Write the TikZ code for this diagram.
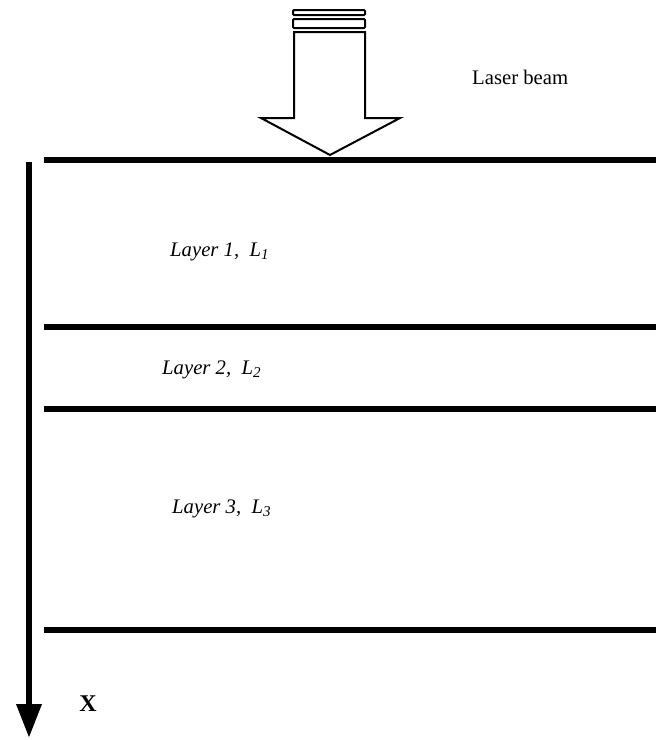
\documentclass[tikz,border=0pt]{standalone}
\usepackage{fontspec}
\setmainfont{Liberation Serif}
\usetikzlibrary{arrows.meta}
\newcommand{\sub}[1]{\raisebox{-0.35ex}{\fontsize{15}{15}\selectfont #1}}
\begin{document}
\begin{tikzpicture}[x=1pt,y=-1pt,
  layerline/.style={line width=6pt},
  beam/.style={draw=black,line width=2pt,fill=white,line join=miter},
  lbl/.style={font=\fontsize{20.7}{24}\selectfont\itshape,anchor=west,inner sep=0pt}]
\useasboundingbox (0,0) rectangle (658,740);
% layer boundaries
\coordinate (s0l) at (44,160); \coordinate (s0r) at (656,160);
\coordinate (s1l) at (44,327); \coordinate (s1r) at (656,327);
\coordinate (s2l) at (44,409); \coordinate (s2r) at (656,409);
\coordinate (s3l) at (44,630); \coordinate (s3r) at (656,630);
\draw[layerline] (s0l) -- (s0r);
\draw[layerline] (s1l) -- (s1r);
\draw[layerline] (s2l) -- (s2r);
\draw[layerline] (s3l) -- (s3r);
% depth axis
\coordinate (ax0) at (29,162);
\coordinate (ax1) at (29,738);
\draw[line width=6.5pt,-{Triangle[length=34pt,width=24pt]}] (ax0) -- (ax1);
\node[inner sep=0pt,font=\fontsize{24}{26}\selectfont\bfseries] (xlbl) at (88,704) {X};
% laser beam arrow
\draw[beam,rounded corners=1pt] (293,10) rectangle (365,15);
\draw[beam,rounded corners=1pt] (293,19) rectangle (365,28);
\draw[beam] (294,32) -- (294,118) -- (261,118) -- (330,155) -- (400,118) -- (365,118) -- (365,32) -- cycle;
\node[inner sep=0pt,anchor=west,font=\fontsize{20.7}{24}\selectfont] (beamlbl) at (472,77) {Laser beam};
% layer labels
\node[lbl] (l1) at (170,252) {Layer 1,\ \ L\sub{1}};
\node[lbl] (l2) at (162,370) {Layer 2,\ \ L\sub{2}};
\node[lbl] (l3) at (172,509) {Layer 3,\ \ L\sub{3}};
\end{tikzpicture}
\end{document}
